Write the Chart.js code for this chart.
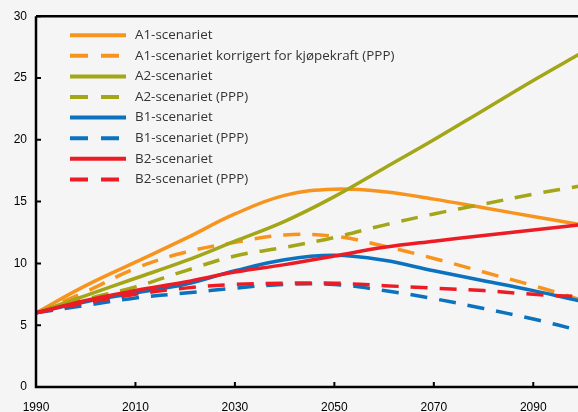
<!DOCTYPE html>
<html>
<head>
<meta charset="utf-8">
<script src="https://cdn.jsdelivr.net/npm/chart.js@4"></script>
<style>
    html, body { margin: 0; padding: 0; background: #f5f5f5; overflow: hidden; }
    #wrap { width: 583px; height: 412px; }
</style>
</head>
<body>
<div id="wrap"><canvas id="chart" width="583" height="412"></canvas></div>
<script>
// Data
const years = [1990, 2000, 2010, 2020, 2030, 2040, 2050, 2060, 2070, 2080, 2090, 2100];
const a1 = [6.0, 8.2, 10.1, 12.0, 14.0, 15.5, 16.0, 15.8, 15.2, 14.5, 13.8, 13.1];
const a1Ppp = [6.0, 7.7, 9.6, 10.9, 11.7, 12.3, 12.2, 11.4, 10.4, 9.3, 8.2, 7.0];
const a2 = [6.0, 7.4, 8.8, 10.2, 11.8, 13.4, 15.4, 17.7, 20.0, 22.4, 24.8, 27.1];
const a2Ppp = [6.0, 7.1, 8.1, 9.4, 10.6, 11.3, 12.1, 13.1, 14.0, 14.8, 15.6, 16.3];
const b1 = [6.0, 6.9, 7.6, 8.3, 9.4, 10.3, 10.65, 10.25, 9.4, 8.6, 7.8, 6.9];
const b1Ppp = [6.0, 6.6, 7.2, 7.6, 8.0, 8.3, 8.3, 7.8, 7.15, 6.35, 5.5, 4.5];
const b2 = [6.0, 7.0, 7.8, 8.5, 9.3, 9.9, 10.6, 11.3, 11.8, 12.25, 12.7, 13.15];
const b2Ppp = [6.0, 6.8, 7.5, 8.0, 8.3, 8.4, 8.4, 8.2, 8.0, 7.8, 7.5, 7.3];

const labels = [
    'A1-scenariet',
    'A1-scenariet korrigert for kjøpekraft (PPP)',
    'A2-scenariet',
    'A2-scenariet (PPP)',
    'B1-scenariet',
    'B1-scenariet (PPP)',
    'B2-scenariet',
    'B2-scenariet (PPP)'
];
const xTicks = [1990, 2010, 2030, 2050, 2070, 2090];
const yTicks = [0, 5, 10, 15, 20, 25, 30];

const ORANGE = '#f7941d';
const OLIVE = '#a3a617';
const BLUE = '#0a72bf';
const RED = '#ed1c24';
const DASH = [17, 12];

function series(label, values, color, dashed, order) {
    return {
        label: label,
        data: years.map((y, i) => ({ x: y, y: values[i] })),
        borderColor: color,
        borderWidth: 3.5,
        borderDash: dashed ? DASH : [],
        pointRadius: 0,
        tension: 0.4,
        fill: false,
        order: order
    };
}

// Legend inside the plot, top-left
const insideLegend = {
    id: 'insideLegend',
    afterDatasetsDraw(chart) {
        const ctx = chart.ctx;
        const left = chart.chartArea.left;
        const top = chart.chartArea.top;
        chart.data.datasets.forEach((ds, i) => {
            const y = top + 19 + i * 20.6;
            ctx.save();
            ctx.strokeStyle = ds.borderColor;
            ctx.lineWidth = 4;
            ctx.setLineDash(ds.borderDash.length ? [18, 13] : []);
            ctx.beginPath();
            ctx.moveTo(left + 34, y);
            ctx.lineTo(left + 90, y);
            ctx.stroke();
            ctx.setLineDash([]);
            ctx.fillStyle = '#333';
            ctx.font = '13.4px "Open Sans"';
            ctx.textBaseline = 'middle';
            ctx.fillText(ds.label, left + 99, y);
            ctx.restore();
        });
    }
};

// Axis lines, top border and inward tick marks
const frame = {
    id: 'frame',
    afterDraw(chart) {
        const ctx = chart.ctx;
        const a = chart.chartArea;
        const xs = chart.scales.x;
        const ys = chart.scales.y;
        ctx.save();
        ctx.strokeStyle = '#000';
        ctx.lineWidth = 2.5;
        ctx.beginPath();
        ctx.moveTo(a.left, a.top);
        ctx.lineTo(a.right, a.top);
        ctx.moveTo(a.left, a.top);
        ctx.lineTo(a.left, a.bottom);
        ctx.lineTo(a.right, a.bottom);
        ctx.stroke();
        ctx.lineWidth = 2;
        ctx.beginPath();
        yTicks.forEach(v => {
            const py = ys.getPixelForValue(v);
            ctx.moveTo(a.left, py);
            ctx.lineTo(a.left + 5, py);
        });
        xTicks.forEach(v => {
            const px = xs.getPixelForValue(v);
            ctx.moveTo(px, a.bottom);
            ctx.lineTo(px, a.bottom - 5);
        });
        ctx.stroke();
        ctx.restore();
    }
};

const tickFont = { family: '"Liberation Sans", Arial, sans-serif', size: 12 };

new Chart(document.getElementById('chart'), {
    type: 'line',
    data: {
        datasets: [
            series(labels[0], a1, ORANGE, false, 8),
            series(labels[1], a1Ppp, ORANGE, true, 7),
            series(labels[2], a2, OLIVE, false, 6),
            series(labels[3], a2Ppp, OLIVE, true, 5),
            series(labels[4], b1, BLUE, false, 4),
            series(labels[5], b1Ppp, BLUE, true, 3),
            series(labels[6], b2, RED, false, 2),
            series(labels[7], b2Ppp, RED, true, 1)
        ]
    },
    options: {
        responsive: false,
        animation: false,
        layout: { padding: { top: 15, right: 0, left: 0, bottom: 0 } },
        plugins: {
            legend: { display: false },
            tooltip: { enabled: false }
        },
        scales: {
            x: {
                type: 'linear',
                min: 1990,
                max: 2100,
                grid: { display: false, drawTicks: false },
                border: { display: false },
                afterBuildTicks: scale => { scale.ticks = xTicks.map(v => ({ value: v })); },
                afterFit: scale => { scale.height = 25; },
                ticks: {
                    color: '#000',
                    font: tickFont,
                    padding: 13,
                    maxRotation: 0,
                    autoSkip: false,
                    callback: v => String(v)
                }
            },
            y: {
                min: 0,
                max: 30,
                grid: { display: false, drawTicks: false },
                border: { display: false },
                afterBuildTicks: scale => { scale.ticks = yTicks.map(v => ({ value: v })); },
                afterFit: scale => { scale.width = 36; },
                ticks: {
                    color: '#000',
                    font: tickFont,
                    padding: 9
                }
            }
        }
    },
    plugins: [insideLegend, frame]
});
</script>
</body>
</html>
